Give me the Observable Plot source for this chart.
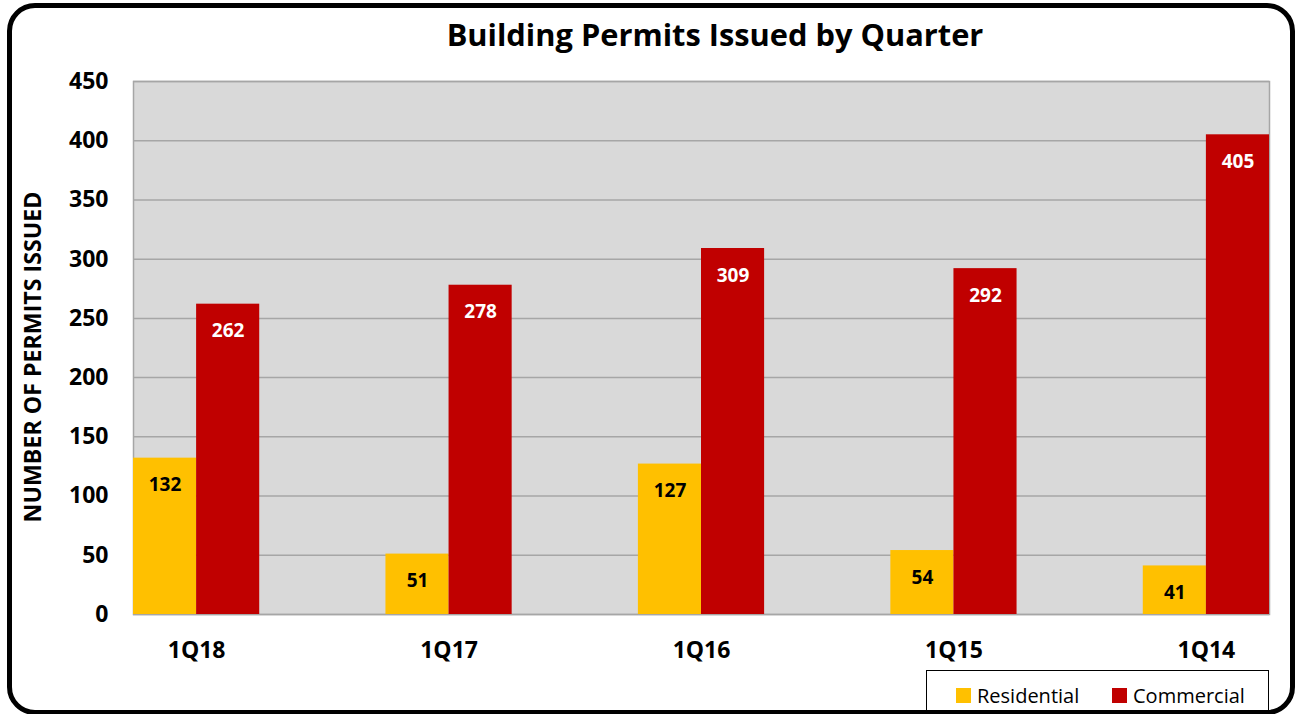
<!DOCTYPE html>
<html>
<head>
<meta charset="utf-8">
<script src="https://cdn.jsdelivr.net/npm/d3@7"></script>
<script src="https://cdn.jsdelivr.net/npm/@observablehq/plot@0.6"></script>
<style>
  html, body { margin: 0; padding: 0; background: #fff; }
  #wrap { position: relative; width: 1299px; height: 714px; overflow: hidden; font-family: "Open Sans", sans-serif; }
  #chart { position: absolute; left: 0; top: 0; }
  #border { position: absolute; left: 7px; top: 3px; width: 1288px; height: 712px; box-sizing: border-box;
            border: 5px solid #000; border-radius: 28px; pointer-events: none; }
  #title { position: absolute; left: 0; top: 13px; width: 1430px; text-align: center; font-weight: bold;
           font-size: 30.8px; color: #000; white-space: nowrap; }
  #ylabel { position: absolute; left: 32px; top: 357px; transform: translate(-50%, -50%) rotate(-90deg);
            font-weight: bold; font-size: 23.2px; color: #000; white-space: nowrap; }
  #legend { position: absolute; left: 926px; top: 670px; width: 343px; height: 60px; box-sizing: border-box;
            border: 1px solid #000; background: #fff; }
  .item { position: absolute; top: 14px; height: 20px; display: flex; align-items: center; font-size: 20px; color: #000; }
  .sw { width: 15px; height: 15px; margin-right: 6px; }
</style>
</head>
<body>
<div id="wrap">
  <div id="chart"></div>
  <div id="title"></div>
  <div id="ylabel"></div>
  <div id="legend"></div>
  <div id="border"></div>
</div>
<script>
// ---- data ----
const title = "Building Permits Issued by Quarter";
const yLabel = "NUMBER OF PERMITS ISSUED";
const quarters = ["1Q18", "1Q17", "1Q16", "1Q15", "1Q14"];
const seriesNames = ["Residential", "Commercial"];
const residential = [132, 51, 127, 54, 41];
const commercial = [262, 278, 309, 292, 405];
const yTicks = [0, 50, 100, 150, 200, 250, 300, 350, 400, 450];

// ---- styles ----
const colors = ["#FFC000", "#C00000"];
const labelColors = ["#000000", "#FFFFFF"];
const groupStep = 4; // 2 bar slots + 2 slot gap

const values = [residential, commercial];
const rows = quarters.flatMap((q, i) => seriesNames.map((s, j) => ({
  quarter: q, series: s, si: j, value: values[j][i],
  x1: i * groupStep + j, x2: i * groupStep + j + 1
})));
const tickPos = quarters.map((q, i) => i * groupStep + 1);

const plot = Plot.plot({
  width: 1299, height: 714,
  marginLeft: 133, marginRight: 30, marginTop: 81, marginBottom: 100,
  style: { fontFamily: "Open Sans, sans-serif", background: "transparent", color: "#000" },
  x: { type: "linear", domain: [0, (quarters.length - 1) * groupStep + 2] },
  y: { domain: [0, 450] },
  marks: [
    Plot.frame({ fill: "#D9D9D9", stroke: "#A6A6A6", strokeWidth: 1.5 }),
    Plot.gridY(yTicks, { stroke: "#A6A6A6", strokeOpacity: 1, strokeWidth: 1.5 }),
    ...seriesNames.map((s, j) => Plot.rectY(rows.filter(d => d.si === j), {
      x1: "x1", x2: "x2", y1: 0, y2: "value", fill: colors[j]
    })),
    ...seriesNames.map((s, j) => Plot.text(rows.filter(d => d.si === j), {
      x: d => (d.x1 + d.x2) / 2, y: "value", text: d => String(d.value), dy: 27,
      fill: labelColors[j], fontWeight: "bold", fontSize: 19
    })),
    Plot.axisY(yTicks, {
      tickSize: 0, tickPadding: 25, fontSize: 23, fontWeight: "bold", label: null
    }),
    Plot.axisX(tickPos, {
      tickSize: 0, tickPadding: 27, fontSize: 23, fontWeight: "bold",
      tickFormat: v => quarters[Math.round((v - 1) / groupStep)], label: null
    })
  ]
});
document.getElementById("chart").appendChild(plot);
document.getElementById("title").textContent = title;
document.getElementById("ylabel").textContent = yLabel;

const legend = document.getElementById("legend");
const legendX = [29, 185];
seriesNames.forEach((s, j) => {
  const it = document.createElement("div");
  it.className = "item";
  it.style.left = legendX[j] + "px";
  const sw = document.createElement("span");
  sw.className = "sw";
  sw.style.background = colors[j];
  const tx = document.createElement("span");
  tx.textContent = s;
  it.appendChild(sw); it.appendChild(tx);
  legend.appendChild(it);
});
</script>
</body>
</html>
